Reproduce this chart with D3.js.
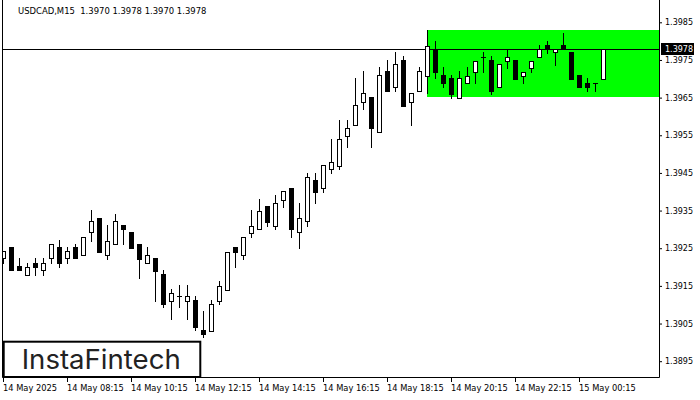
<!DOCTYPE html>
<html><head><meta charset="utf-8">
<script src="https://cdn.jsdelivr.net/npm/d3@7"></script>
<style>html,body{margin:0;padding:0;background:#fff;} svg{display:block;}</style>
</head><body>
<svg id="chart" width="700" height="400"></svg>
<script>
const times = [
"06:15","06:30","06:45","07:00","07:15","07:30","07:45","08:00",
"08:15","08:30","08:45","09:00","09:15","09:30","09:45","10:00",
"10:15","10:30","10:45","11:00","11:15","11:30","11:45","12:00",
"12:15","12:30","12:45","13:00","13:15","13:30","13:45","14:00",
"14:15","14:30","14:45","15:00","15:15","15:30","15:45","16:00",
"16:15","16:30","16:45","17:00","17:15","17:30","17:45","18:00",
"18:15","18:30","18:45","19:00","19:15","19:30","19:45","20:00",
"20:15","20:30","20:45","21:00","21:15","21:30","21:45","22:00",
"22:15","22:30","22:45","23:00","23:15","23:30","23:45","00:00",
"00:15","00:30","00:45","01:00"];
const open = [
1.39223,1.39253,1.39202,1.39180,1.39212,1.39191,1.39223,1.39252,
1.39223,1.39252,1.39231,1.39292,1.39331,1.39231,1.39262,1.39311,
1.39292,1.39262,1.39212,1.39223,1.39181,1.39111,1.39122,1.39111,
1.39112,1.39032,1.39031,1.39111,1.39140,1.39253,1.39231,1.39291,
1.39302,1.39361,1.39310,1.39379,1.39411,1.39292,1.39321,1.39430,
1.39410,1.39461,1.39469,1.39548,1.39578,1.39638,1.39651,1.39559,
1.39720,1.39678,1.39749,1.39638,1.39668,1.39708,1.39778,1.39709,
1.39701,1.39650,1.39690,1.39718,1.39759,1.39749,1.39679,1.39748,
1.39749,1.39708,1.39729,1.39758,1.39789,1.39770,1.39789,1.39770,
1.39709,1.39690,1.39690,1.39700];
const high = [
1.39242,1.39253,1.39223,1.39212,1.39223,1.39223,1.39262,1.39271,
1.39253,1.39262,1.39281,1.39351,1.39331,1.39311,1.39341,1.39311,
1.39292,1.39262,1.39252,1.39223,1.39192,1.39141,1.39152,1.39152,
1.39122,1.39082,1.39112,1.39162,1.39241,1.39253,1.39281,1.39351,
1.39380,1.39361,1.39391,1.39401,1.39411,1.39371,1.39451,1.39451,
1.39470,1.39539,1.39590,1.39590,1.39701,1.39720,1.39651,1.39730,
1.39749,1.39770,1.39760,1.39662,1.39730,1.39829,1.39800,1.39731,
1.39709,1.39720,1.39731,1.39748,1.39770,1.39760,1.39738,1.39778,
1.39749,1.39719,1.39748,1.39789,1.39800,1.39778,1.39821,1.39770,
1.39709,1.39701,1.39690,1.39780];
const low = [
1.39212,1.39191,1.39191,1.39180,1.39180,1.39180,1.39212,1.39201,
1.39212,1.39223,1.39231,1.39270,1.39241,1.39222,1.39262,1.39262,
1.39251,1.39171,1.39212,1.39110,1.39093,1.39062,1.39093,1.39062,
1.39032,1.39013,1.39031,1.39102,1.39140,1.39200,1.39222,1.39280,
1.39302,1.39309,1.39300,1.39360,1.39280,1.39251,1.39310,1.39371,
1.39399,1.39450,1.39461,1.39519,1.39578,1.39619,1.39519,1.39559,
1.39667,1.39668,1.39628,1.39577,1.39668,1.39661,1.39701,1.39678,
1.39649,1.39650,1.39690,1.39690,1.39718,1.39660,1.39679,1.39729,
1.39699,1.39690,1.39718,1.39758,1.39768,1.39736,1.39778,1.39699,
1.39678,1.39668,1.39668,1.39700];
const close = [
1.39242,1.39191,1.39191,1.39201,1.39201,1.39212,1.39262,1.39212,
1.39242,1.39223,1.39281,1.39321,1.39241,1.39270,1.39321,1.39301,
1.39251,1.39222,1.39231,1.39190,1.39103,1.39132,1.39122,1.39122,
1.39042,1.39023,1.39103,1.39151,1.39241,1.39240,1.39281,1.39310,
1.39350,1.39320,1.39371,1.39401,1.39301,1.39331,1.39440,1.39399,
1.39470,1.39480,1.39539,1.39570,1.39630,1.39661,1.39569,1.39709,
1.39667,1.39739,1.39628,1.39662,1.39720,1.39788,1.39718,1.39690,
1.39660,1.39701,1.39708,1.39748,1.39759,1.39668,1.39738,1.39759,
1.39699,1.39719,1.39748,1.39778,1.39778,1.39778,1.39778,1.39699,
1.39678,1.39678,1.39690,1.39780];
const priceTicks = [1.3895,1.3905,1.3915,1.3925,1.3935,1.3945,1.3955,1.3965,1.3975,1.3985];
const timeTicks = ["06:15","08:15","10:15","12:15","14:15","16:15","18:15","20:15","22:15","00:15"];
const timeTickLabels = ["14 May 2025","14 May 08:15","14 May 10:15","14 May 12:15","14 May 14:15","14 May 16:15","14 May 18:15","14 May 20:15","14 May 22:15","15 May 00:15"];
const lastPrice = 1.3978;
const zoneStart = "19:30";
const zoneTop = 1.39829, zoneBottom = 1.39651;
const title = "USDCAD,M15  1.3970 1.3978 1.3970 1.3978";
const logoText = "InstaFintech";

const svg = d3.select("#chart");
const x = d3.scalePoint().domain(times).range([3, 603]);
const y = d3.scaleLinear().domain([1.3895, 1.3985]).range([361.2, 22.3]);
const data = times.map((t, i) => ({t, o: open[i], h: high[i], l: low[i], c: close[i]}));

svg.append("rect").attr("width", 700).attr("height", 400).attr("fill", "#fff");
svg.append("defs").append("clipPath").attr("id", "clip")
  .append("rect").attr("x", 3).attr("y", 0).attr("width", 656).attr("height", 377);
const plot = svg.append("g").attr("clip-path", "url(#clip)");

// zone
const zx = x(zoneStart);
plot.append("rect").attr("x", zx).attr("y", Math.round(y(zoneTop)))
  .attr("width", 659 - zx).attr("height", Math.round(y(zoneBottom)) - Math.round(y(zoneTop)))
  .attr("fill", "#00ff00");

// last price line
const ly = Math.round(y(lastPrice)) + 0.5;
plot.append("line").attr("x1", 3).attr("x2", 659).attr("y1", ly).attr("y2", ly)
  .attr("stroke", "#000").attr("stroke-width", 1);

// candles
const cg = plot.selectAll("g.candle").data(data).join("g").attr("class", "candle");
cg.append("line")
  .attr("x1", d => x(d.t) + 0.5).attr("x2", d => x(d.t) + 0.5)
  .attr("y1", d => Math.round(y(d.h))).attr("y2", d => Math.round(y(d.l)) + 1)
  .attr("stroke", "#000").attr("stroke-width", 1);
cg.each(function(d) {
  const g = d3.select(this);
  const cx = x(d.t);
  const top = Math.round(y(Math.max(d.o, d.c)));
  const bot = Math.round(y(Math.min(d.o, d.c)));
  if (bot - top < 1) {
    g.append("line").attr("x1", cx - 2).attr("x2", cx + 3)
      .attr("y1", top + 0.5).attr("y2", top + 0.5).attr("stroke", "#000");
  } else {
    g.append("rect").attr("x", cx - 1.5).attr("y", top + 0.5)
      .attr("width", 4).attr("height", bot - top)
      .attr("fill", d.c >= d.o ? "#fff" : "#000")
      .attr("stroke", "#000").attr("stroke-width", 1);
  }
});

// frame
svg.append("path").attr("d", "M2.5,0V377.5H659.5V0").attr("fill", "none").attr("stroke", "#000");

// right axis
const ya = svg.append("g").attr("transform", "translate(659,0)")
  .call(d3.axisRight(y).tickValues(priceTicks).tickSize(3).tickPadding(3).tickFormat(d3.format(".4f")));
ya.select(".domain").remove();
ya.selectAll("text").attr("font-family", "DejaVu Sans").attr("font-size", "8px").attr("fill", "#000");
ya.selectAll("line").attr("stroke", "#000");

// bottom axis
const xa = svg.append("g").attr("transform", "translate(0,378)")
  .call(d3.axisBottom(x).tickValues(timeTicks).tickSize(4).tickPadding(3)
    .tickFormat(d => timeTickLabels[timeTicks.indexOf(d)]));
xa.select(".domain").remove();
xa.selectAll("text").attr("text-anchor", "start").attr("dx", "-0.5")
  .attr("font-family", "DejaVu Sans").attr("font-size", "8.3px").attr("fill", "#000");
xa.selectAll("line").attr("stroke", "#000");

// last price label
const lp = svg.append("g");
lp.append("rect").attr("x", 661).attr("y", Math.round(y(lastPrice)) - 6).attr("width", 33).attr("height", 12).attr("fill", "#000");
lp.append("text").attr("x", 665).attr("y", Math.round(y(lastPrice)) + 0.5).attr("dy", "0.32em")
  .attr("font-family", "DejaVu Sans").attr("font-size", "8px").attr("fill", "#fff")
  .text(d3.format(".4f")(lastPrice));

// title
svg.append("text").attr("x", 18).attr("y", 14.3).style("white-space", "pre")
  .attr("font-family", "DejaVu Sans").attr("font-size", "8.45px").attr("fill", "#000")
  .text(title);

// logo
svg.append("rect").attr("x", 3.7).attr("y", 341.7).attr("width", 196.6).attr("height", 35.3)
  .attr("fill", "#fff").attr("stroke", "#000").attr("stroke-width", 2);
svg.append("text").attr("x", 21.7).attr("y", 369).attr("font-family", "Inter, Lato, sans-serif")
  .attr("font-weight", 400).attr("font-size", "27px").attr("fill", "#222")
  .attr("textLength", 159).attr("lengthAdjust", "spacingAndGlyphs").text(logoText);
</script>
</body></html>
